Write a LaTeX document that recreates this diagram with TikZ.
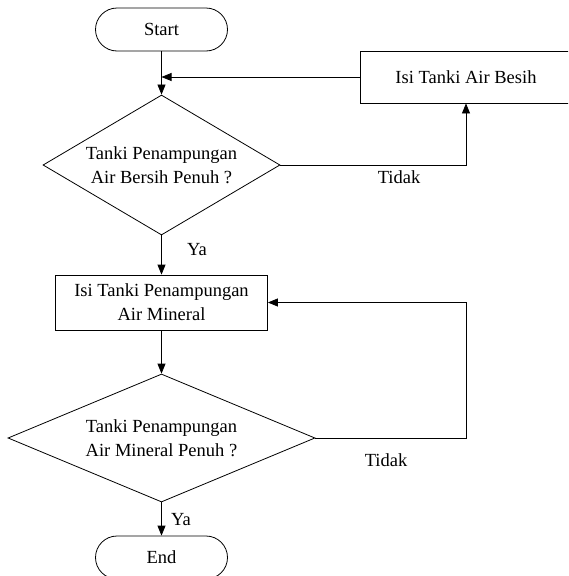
\documentclass[tikz,border=0pt]{standalone}
\usepackage{fontspec}
\setmainfont{Liberation Serif}
\usetikzlibrary{shapes.geometric,arrows.meta}
\tikzset{
  terminal/.style={draw,rounded corners=21.5pt,minimum width=132pt,minimum height=43pt,inner sep=0pt},
  proses/.style={draw,align=center,inner sep=0pt},
  keputusan/.style={draw,diamond,align=center,inner sep=0pt},
  label/.style={inner sep=0pt},
  alur/.style={-{Triangle[length=10pt,width=8pt]}},
}
\begin{document}
\begin{tikzpicture}[x=1pt,y=-1pt,line width=0.8pt,font=\fontsize{18.5}{24}\selectfont]
\clip (0,0) rectangle (568,576);
\node[terminal] (start) at (161.5,29.5) {Start};
\node[proses,minimum width=212pt,minimum height=52pt] (isiBersih) at (466,77) {Isi Tanki Air Besih};
\node[keputusan,minimum width=237pt,minimum height=140pt,aspect=1.69] (cekBersih) at (161.5,165) {Tanki Penampungan\\Air Bersih Penuh ?};
\node[proses,minimum width=212pt,minimum height=55pt] (isiMineral) at (161.5,302.5) {Isi Tanki Penampungan\\Air Mineral};
\node[keputusan,minimum width=307pt,minimum height=128pt,aspect=2.4] (cekMineral) at (161.5,438) {Tanki Penampungan\\Air Mineral Penuh ?};
\node[terminal] (end) at (161.5,557.5) {End};
\node[label] (tidakBersih) at (399,177) {Tidak};
\node[label] (yaBersih) at (197,250) {Ya};
\node[label] (tidakMineral) at (386,460) {Tidak};
\node[label] (yaMineral) at (181,520) {Ya};
\draw[alur] (start) -- (cekBersih);
\draw[alur] (isiBersih.west) -- (isiBersih.west -| start.south);
\draw[alur] (cekBersih.east) -| (isiBersih.south);
\draw[alur] (cekBersih) -- (isiMineral);
\draw[alur] (isiMineral) -- (cekMineral);
\draw[alur] (cekMineral.east) -- (cekMineral.east -| isiBersih.south) |- (isiMineral.east);
\draw[alur] (cekMineral) -- (end);
\end{tikzpicture}
\end{document}
